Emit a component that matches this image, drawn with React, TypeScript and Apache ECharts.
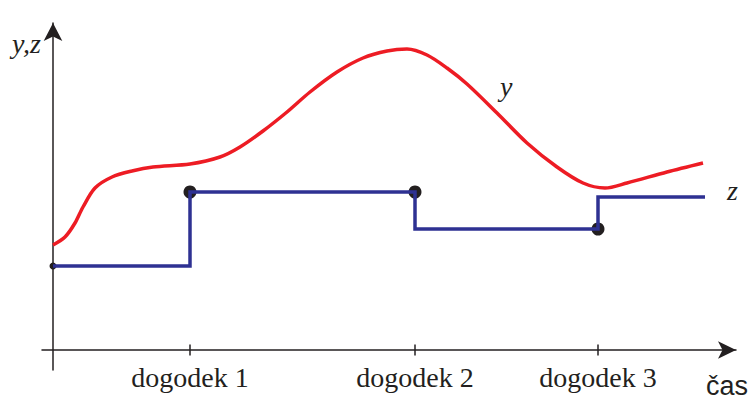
import React, { useEffect, useRef } from "react";
import * as echarts from "echarts";

// time of events (x units) and their labels
const eventTimes = [13.7, 36.2, 54.5];
const eventNames = ["dogodek 1", "dogodek 2", "dogodek 3"];

// continuous signal y
const yCurve: [number, number][] = [
  [0, 10.5], [1.2, 11.3], [2.2, 12.7], [3.0, 14.3], [4.2, 16.2], [5.9, 17.3],
  [7.9, 17.9], [10.0, 18.3], [13.7, 18.6], [16.7, 19.3], [18.7, 20.3],
  [21.0, 21.9], [23.4, 23.8], [25.7, 25.8], [28.4, 27.8], [31.0, 29.2],
  [33.4, 29.9], [35.4, 30.1], [37.4, 29.5], [39.4, 28.2], [41.4, 26.6],
  [44.4, 23.7], [47.4, 20.7], [50.4, 18.3], [53.0, 16.7], [55.2, 16.2],
  [57.4, 16.7], [61.4, 17.8], [65.0, 18.7],
];

// discrete (step) signal z
const zSteps: [number, number][] = [
  [0, 8.4], [13.7, 15.8], [36.2, 12.1], [54.5, 15.3], [65.2, 15.3],
];

// event dots
const startDot: [number, number][] = [[0, 8.4]];
const eventDots: [number, number][] = [[13.7, 15.8], [36.2, 15.8], [54.5, 12.1]];

const INK = "#231f20";
const RED = "#ed1c24";
const BLUE = "#2e3192";

export default function App() {
  const ref = useRef<HTMLDivElement>(null);
  useEffect(() => {
    if (!ref.current) return;
    const chart = echarts.init(ref.current, null, { renderer: "svg" });
    chart.setOption({
      animation: false,
      backgroundColor: "#ffffff",
      grid: { left: 42, right: 18, top: 23, bottom: 30, outerBoundsMode: "none", containLabel: false },
      xAxis: {
        type: "value",
        min: -1.1,
        max: 68.3,
        splitLine: { show: false },
        axisTick: { show: false },
        axisLine: {
          onZero: true,
          symbol: ["none", "arrow"],
          symbolSize: [13, 18],
          lineStyle: { color: INK, width: 1.5 },
        },
        axisLabel: {
          customValues: eventTimes,
          formatter: (v: number) => {
            const i = eventTimes.findIndex((t) => Math.abs(t - v) < 1e-6);
            return i >= 0 ? eventNames[i] : "";
          },
          fontFamily: "'Liberation Serif', 'DejaVu Serif', serif",
          fontSize: 28,
          color: INK,
          margin: -7,
        },
      },
      yAxis: {
        type: "value",
        min: -2,
        max: 32.7,
        splitLine: { show: false },
        axisTick: { show: false },
        axisLabel: { show: false },
        axisLine: {
          onZero: true,
          symbol: ["none", "arrow"],
          symbolSize: [14, 18],
          lineStyle: { color: INK, width: 1.5 },
        },
      },
      series: [
        {
          type: "scatter",
          data: eventTimes.map((t) => [t, 0]),
          symbol: "rect",
          symbolSize: [1.5, 11],
          itemStyle: { color: INK, opacity: 1 },
          silent: true,
        },
        {
          type: "line",
          data: yCurve,
          smooth: 0.3,
          showSymbol: false,
          lineStyle: { color: RED, width: 3.5 },
        },
        {
          type: "line",
          data: zSteps,
          step: "end",
          showSymbol: false,
          lineStyle: { color: BLUE, width: 3.5, join: "miter" },
        },
        {
          type: "scatter",
          data: startDot,
          symbolSize: 7,
          itemStyle: { color: INK, opacity: 1 },
        },
        {
          type: "scatter",
          data: eventDots,
          symbolSize: 13,
          itemStyle: { color: INK, opacity: 1 },
        },
      ],
      graphic: [
        {
          type: "text",
          style: {
            text: "y,z",
            x: 12,
            y: 43,
            verticalAlign: "middle",
            align: "left",
            font: "italic 28px 'Liberation Serif'",
            fill: INK,
          },
        },
        {
          type: "text",
          style: {
            text: "y",
            x: 500,
            y: 86,
            verticalAlign: "middle",
            align: "left",
            font: "italic 28px 'Liberation Serif'",
            fill: INK,
          },
        },
        {
          type: "text",
          style: {
            text: "z",
            x: 727,
            y: 190,
            verticalAlign: "middle",
            align: "left",
            font: "italic 28px 'Liberation Serif'",
            fill: INK,
          },
        },
        {
          type: "text",
          style: {
            text: "čas",
            x: 706,
            y: 386,
            verticalAlign: "middle",
            align: "left",
            font: "27px 'Liberation Sans'",
            fill: INK,
          },
        },
      ],
    });
    return () => chart.dispose();
  }, []);
  return (
    <div
      ref={ref}
      style={{ width: 754, height: 400, position: "absolute", left: 0, top: 0 }}
    />
  );
}
